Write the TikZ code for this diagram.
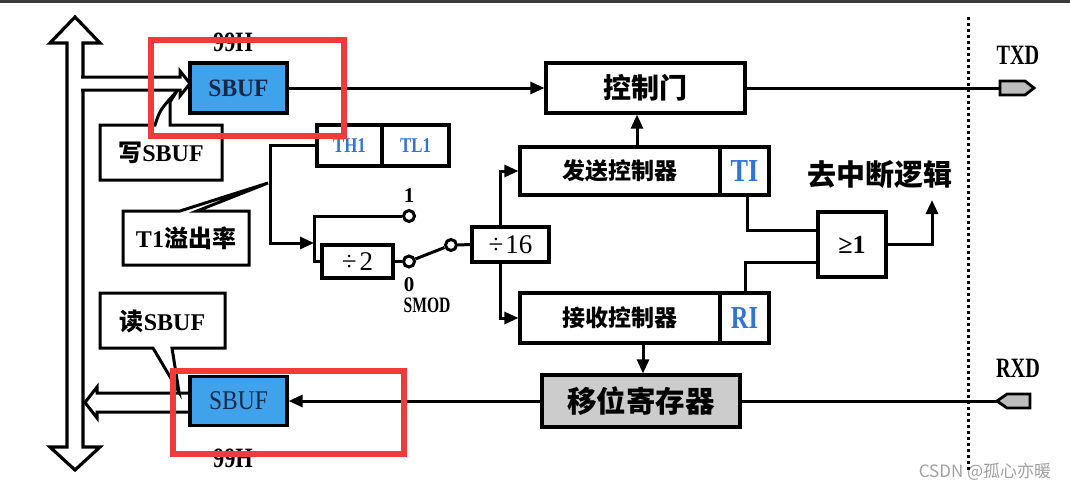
\documentclass[tikz,border=0pt]{standalone}
\usepackage{fontspec}
\setmainfont{Liberation Serif}
\newfontfamily\cjk{Noto Sans CJK SC}
\usetikzlibrary{arrows.meta}
\definecolor{sbufblue}{HTML}{3FA2EA}
\definecolor{txtblue}{HTML}{2F74D8}
\definecolor{redbox}{HTML}{F23A3A}
\definecolor{pingray}{HTML}{BDBDBD}
\definecolor{shiftgray}{HTML}{CCCCCC}
\definecolor{navytxt}{HTML}{14284A}
\definecolor{topbar}{HTML}{3A3A3A}
\definecolor{wmgray}{HTML}{A0A0A0}
\newcommand{\fs}[1]{\fontsize{#1}{#1}\selectfont}
\newcommand{\nar}[2]{\scalebox{#1}[1]{#2}}
\begin{document}
\begin{tikzpicture}[x=1pt,y=-1pt,
  blk/.style={draw=black,line width=3.2pt,inner sep=0pt,fill=white},
  ln/.style={line width=3pt},
  arr/.style={line width=3pt,-{Triangle[length=14pt,width=12pt]}},
  circ/.style={circle,draw=black,line width=3pt,fill=white,minimum size=11pt,inner sep=0pt},
  lbl/.style={inner sep=0pt},
  callout/.style={draw=black,line width=3pt,fill=white,line join=miter}
]
\fill[white] (0,0) rectangle (1070,491);
\useasboundingbox (0,0) rectangle (1070,491);
\fill[topbar] (0,0) rectangle (1070,3);

% vertical bus (hollow double arrow)
\draw[line width=3.2pt,fill=white,line join=miter]
  (67,447) -- (67,43) -- (50,43) -- (75,17) -- (100,43) -- (83,43) -- (83,447) -- (100,447) -- (75,470) -- (50,447) -- cycle;

% hollow arrow bus -> top SBUF
\path[fill=white] (81,77) -- (180,77) -- (180,71) -- (190,83.5) -- (180,96) -- (180,90) -- (81,90) -- cycle;
\draw[line width=3pt,line join=miter] (81,77) -- (180,77) -- (180,71) -- (190,83.5) -- (180,96) -- (180,90) -- (81,90);

% hollow arrow bottom SBUF -> bus
\path[fill=white] (190,393) -- (97,393) -- (97,387) -- (85,402.5) -- (97,418) -- (97,412) -- (190,412) -- cycle;
\draw[line width=3pt,line join=miter] (190,393) -- (97,393) -- (97,387) -- (85,402.5) -- (97,418) -- (97,412) -- (190,412);

% callouts
\draw[callout] (100,125) -- (155,125) .. controls (160,110) .. (177,91) -- (170,102) -- (170,125) -- (222,125) -- (222,180) -- (100,180) -- cycle;
\node[lbl,font=\bfseries\fs{24}] (wr) at (161,153) {{\cjk 写}SBUF};

\draw[callout] (100,293) -- (225,293) -- (225,348) -- (172,348) -- (179,392) -- (153,348) -- (100,348) -- cycle;
\node[lbl,font=\bfseries\fs{24}] (rd) at (162.5,321) {{\cjk 读}SBUF};

\draw[callout] (123,211) -- (180,211) -- (268,183) -- (197,211) -- (249,211) -- (249,265) -- (123,265) -- cycle;
\node[lbl,font=\bfseries\fs{24}] (t1) at (186,238.5) {T1{\cjk 溢出率}};

% boxes
\node[blk,fill=sbufblue,minimum width=97pt,minimum height=50pt,font=\bfseries\fs{25},text=navytxt] (sbufT) at (238.5,88) {\nar{0.94}{SBUF}};
\node[blk,fill=sbufblue,minimum width=97pt,minimum height=49pt,font=\fs{27},text=navytxt] (sbufB) at (238.5,401) {\nar{0.87}{SBUF}};
\node[blk,minimum width=199pt,minimum height=50pt,font=\cjk\bfseries\fs{28}] (gate) at (645.5,88) {控制门};
\node[blk,minimum width=200pt,minimum height=48pt,font=\cjk\bfseries\fs{23}] (tx) at (620,171) {发送控制器};
\node[blk,minimum width=49pt,minimum height=48pt,font=\bfseries\fs{32},text=txtblue] (ti) at (744.5,171) {\nar{0.82}{TI}};
\node[blk,minimum width=200pt,minimum height=50pt,font=\cjk\bfseries\fs{23}] (rx) at (620,318) {接收控制器};
\node[blk,minimum width=49pt,minimum height=50pt,font=\bfseries\fs{32},text=txtblue] (ri) at (744.5,318) {\nar{0.76}{RI}};
\node[blk,fill=shiftgray,minimum width=198pt,minimum height=52pt,font=\cjk\bfseries\fs{29.5}] (shift) at (641,401) {移位寄存器};
\node[blk,minimum width=65pt,minimum height=41pt,font=\bfseries\fs{21},text=txtblue] (th1) at (349.5,145.5) {\nar{0.8}{TH1}};
\node[blk,minimum width=67pt,minimum height=41pt,font=\bfseries\fs{21},text=txtblue] (tl1) at (415.5,145.5) {\nar{0.8}{TL1}};
\node[blk,minimum width=71pt,minimum height=33pt,font=\fs{27}] (div2) at (357.5,261.5) {÷\hspace{3pt}2};
\node[blk,minimum width=77pt,minimum height=35pt,font=\fs{27}] (div16) at (510.5,244.5) {÷\hspace{2pt}16};
\node[blk,minimum width=68pt,minimum height=65pt,font=\bfseries\fs{26}] (or) at (852,244.5) {≥1};

% switch circles
\node[circ] (c1) at (409,216) {};
\node[circ] (c0) at (409,261.5) {};
\node[circ] (cs) at (451,245) {};
\coordinate (sw) at (314,243);

% labels
\node[lbl,font=\bfseries\fs{28}] (h99a) at (233,42) {\nar{0.8}{99H}};
\node[lbl,font=\bfseries\fs{28}] (h99b) at (233,458) {\nar{0.8}{99H}};
\node[lbl,font=\bfseries\fs{21}] (one) at (409,196) {1};
\node[lbl,font=\bfseries\fs{21}] (zero) at (409,285) {0};
\node[lbl,font=\bfseries\fs{22}] (smod) at (427,305) {\nar{0.71}{SMOD}};
\node[lbl,font=\bfseries\fs{28}] (txd) at (1018,55) {\nar{0.72}{TXD}};
\node[lbl,font=\bfseries\fs{28}] (rxd) at (1018,368) {\nar{0.72}{RXD}};
\node[lbl,font=\cjk\bfseries\fs{29}] (intr) at (880,175) {去中断逻辑};
\node[lbl,font=\cjk\fs{17},text=wmgray] (wm) at (985,472) {CSDN @孤心亦暖};

% pins
\draw[line width=2.8pt,fill=pingray,line join=miter] (1000,81) -- (1025,81) -- (1034,88) -- (1025,95) -- (1000,95) -- cycle;
\coordinate (txdpin) at (1000,88);
\draw[line width=2.8pt,fill=pingray,line join=miter] (1030,394) -- (1007,394) -- (997,401) -- (1007,408) -- (1030,408) -- cycle;
\coordinate (rxdpin) at (997,401);

% connectors
\draw[arr] (sbufT.east) -- (gate.west);
\draw[ln] (gate.east) -- (txdpin);
\draw[ln] (rxdpin) -- (shift.east);
\draw[arr] (shift.west) -- (sbufB.east);
\draw[arr] (th1.west) -| (270,243) -- (sw);
\draw[ln] (c1.west) -| (sw) |- (div2.west);
\draw[ln] (div2.east) -- (c0.west);
\draw[ln] (c0) -- (cs);
\draw[ln] (cs.east) -- (div16.west);
\draw[arr] ([xshift=-10.5pt]div16.north) |- (tx.west);
\draw[arr] ([xshift=-10.5pt]div16.south) |- (rx.west);
\draw[arr] ([xshift=17pt]tx.north) -- ([xshift=17pt]tx.north |- gate.south);
\draw[arr] ([xshift=23pt]rx.south) -- ([xshift=23pt]rx.south |- shift.north);
\draw[ln] ([xshift=2.5pt]ti.south) |- ([yshift=14.5pt]or.west);
\draw[ln] ([xshift=0.5pt]ri.north) |- ([yshift=-17.5pt]or.west);
\coordinate (intout) at (932,200);
\draw[arr] (or.east) -| (intout);

% dotted boundary
\draw[line width=3pt,dash pattern=on 3pt off 3pt] (968,17) -- (968,470);

% red highlight frames
\draw[redbox,line width=6pt] (151,40) rectangle (344,136);
\draw[redbox,line width=6pt] (173,371) rectangle (404,454);
\end{tikzpicture}
\end{document}
